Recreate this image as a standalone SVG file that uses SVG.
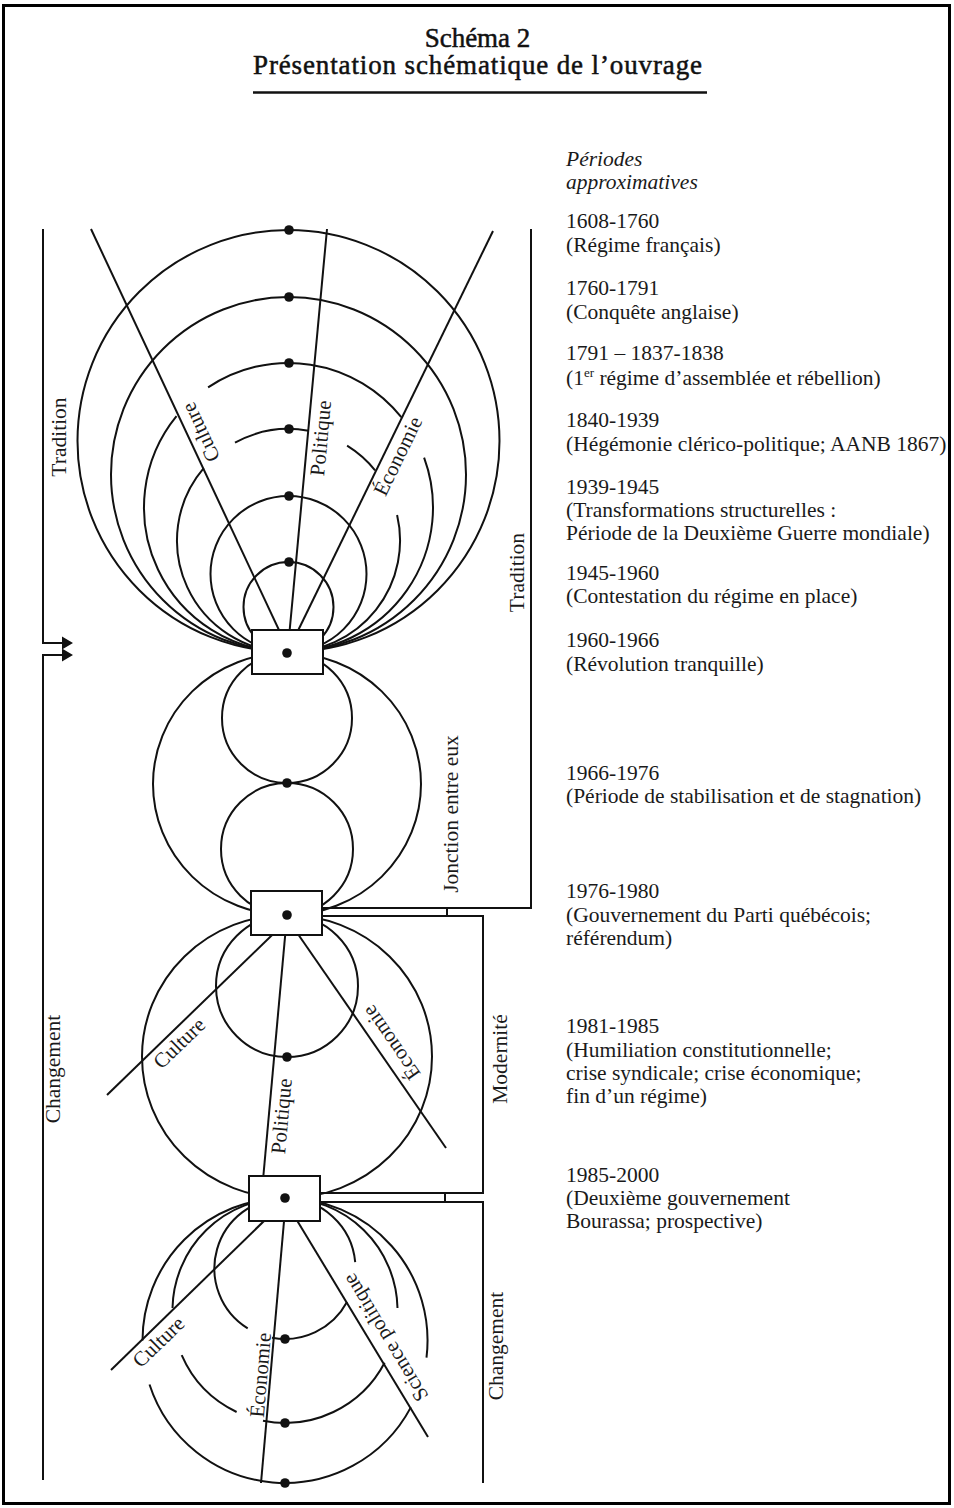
<svg xmlns="http://www.w3.org/2000/svg" width="954" height="1508" viewBox="0 0 954 1508">
<style>
.ln{fill:none;stroke:#111;stroke-width:2}
.bx{fill:#fff;stroke:#111;stroke-width:2}
.dot{fill:#111}
.t{font-family:"Liberation Serif","Times New Roman",serif;font-size:21.5px;fill:#1a1a1a}
.i{font-style:italic}
.lbl{font-family:"Liberation Serif","Times New Roman",serif;font-size:21px;fill:#1a1a1a;text-anchor:middle}
.vt{font-family:"Liberation Serif","Times New Roman",serif;font-size:21.5px;fill:#1a1a1a;text-anchor:middle}
.ttl{font-family:"Liberation Serif","Times New Roman",serif;font-size:27px;fill:#111;stroke:#111;stroke-width:0.5;text-anchor:middle}
</style>
<rect width="954" height="1508" fill="#fff"/>
<rect x="3.5" y="5.5" width="946" height="1498" fill="none" stroke="#000" stroke-width="3"/>

<g id="title">
<text class="ttl" x="477.5" y="47">Schéma 2</text>
<text class="ttl" x="477.5" y="74" textLength="449" lengthAdjust="spacing">Présentation schématique de l’ouvrage</text>
<line x1="253" y1="92.5" x2="707" y2="92.5" stroke="#111" stroke-width="2.5"/>
</g>

<g id="connectors">
<!-- upper system: circles through box 1 -->
<circle class="ln" cx="288.5" cy="441" r="211"/>
<circle class="ln" cx="288.5" cy="474.5" r="177.5"/>
<path class="ln" d="M288.5,652 A144.5,144.5 0 0 1 176.5,416.2 M208.1,387.4 A144.5,144.5 0 0 1 401.3,417.2 M424.1,457.6 A144.5,144.5 0 0 1 288.5,652"/>
<path class="ln" d="M288.5,652 A111.5,111.5 0 0 1 203.7,468.1 M235,442.7 A111.5,111.5 0 0 1 308.6,430.8 M347.1,445.6 A111.5,111.5 0 0 1 375.1,470.3 M397.1,515 A111.5,111.5 0 0 1 288.5,652"/>
<circle class="ln" cx="288.5" cy="574" r="78"/>
<circle class="ln" cx="288.5" cy="607" r="45"/>
<!-- upper rays -->
<line class="ln" x1="91" y1="229" x2="286" y2="645"/>
<line class="ln" x1="327" y1="229" x2="288.3" y2="645"/>
<line class="ln" x1="493" y1="231" x2="291" y2="645"/>
<!-- junction between box 1 and box 2 -->
<ellipse class="ln" cx="287" cy="784" rx="134" ry="131"/>
<circle class="ln" cx="287" cy="718" r="65"/>
<circle class="ln" cx="287" cy="849" r="66"/>
<!-- middle system -->
<circle class="ln" cx="287" cy="986" r="71"/>
<ellipse class="ln" cx="287" cy="1056.5" rx="145" ry="141.5"/>
<line class="ln" x1="282.4" y1="925" x2="107" y2="1095"/>
<line class="ln" x1="286.1" y1="925" x2="263" y2="1180"/>
<line class="ln" x1="291.7" y1="925" x2="446" y2="1148"/>
<!-- lower system -->
<path class="ln" d="M247.7,1328.4 A70.5,70.5 0 0 1 285,1198 M347,1302 A70.5,70.5 0 0 1 272,1337.8 M285,1198 A70.5,70.5 0 0 1 355.2,1262.1"/>
<path class="ln" d="M172.5,1308 A112.5,112.5 0 0 1 285,1198 M236.6,1412 A112.5,112.5 0 0 1 181.7,1355.2 M384.6,1362.8 A112.5,112.5 0 0 1 263,1420.8 M285,1198 A112.5,112.5 0 0 1 397.5,1308"/>
<path class="ln" d="M142.5,1340.5 A142.5,142.5 0 0 1 285,1198 M410.8,1407.4 A142.5,142.5 0 0 1 149.5,1384.5 M285,1198 A142.5,142.5 0 0 1 426.5,1357.6"/>
<line class="ln" x1="275.3" y1="1210" x2="111" y2="1370"/>
<line class="ln" x1="285" y1="1210" x2="261" y2="1483"/>
<line class="ln" x1="290.7" y1="1210" x2="428" y2="1437"/>
<!-- left brackets -->
<path class="ln" d="M43,229 V643 H63"/>
<path class="ln" d="M43,1480 V655 H63"/>
<path class="dot" d="M62,636.5 L73,643 L62,649.5 Z M62,648.5 L73,655 L62,661.5 Z"/>
<!-- right brackets -->
<path class="ln" d="M531,229 V908 H322"/>
<path class="ln" d="M322,916 H483 V1193 H320"/>
<path class="ln" d="M320,1202 H483 V1483"/>
<path class="ln" d="M447,908 V916 M445,1193 V1202"/>
</g>

<g id="box1"><rect class="bx" x="252" y="630" width="71" height="44"/><circle class="dot" cx="287" cy="653" r="4.8"/></g>
<g id="box2"><rect class="bx" x="251" y="891" width="71" height="44"/><circle class="dot" cx="287" cy="915" r="4.8"/></g>
<g id="box3"><rect class="bx" x="249" y="1176" width="71" height="45"/><circle class="dot" cx="285" cy="1198" r="4.8"/></g>

<g id="dots">
<circle class="dot" cx="289" cy="230" r="4.8"/>
<circle class="dot" cx="289" cy="297" r="4.8"/>
<circle class="dot" cx="289" cy="363" r="4.8"/>
<circle class="dot" cx="289" cy="429" r="4.8"/>
<circle class="dot" cx="289" cy="496" r="4.8"/>
<circle class="dot" cx="289" cy="562" r="4.8"/>
<circle class="dot" cx="287" cy="783" r="4.8"/>
<circle class="dot" cx="287" cy="1057" r="4.8"/>
<circle class="dot" cx="285" cy="1339" r="4.8"/>
<circle class="dot" cx="285" cy="1423" r="4.8"/>
<circle class="dot" cx="285" cy="1483" r="4.8"/>
</g>

<g id="ray-labels">
<text class="lbl" transform="translate(207,429.3) rotate(-115.2)">Culture</text>
<text class="lbl" transform="translate(327.6,438.8) rotate(-84.7)">Politique</text>
<text class="lbl" transform="translate(404.1,459.1) rotate(-64)">Économie</text>
<text class="lbl" transform="translate(184,1048.2) rotate(-44.1)">Culture</text>
<text class="lbl" transform="translate(288.4,1116.8) rotate(-84.7)">Politique</text>
<text class="lbl" transform="translate(397,1038.7) rotate(-124.7)">Économie</text>
<text class="lbl" transform="translate(163.3,1346.9) rotate(-44.2)">Culture</text>
<text class="lbl" transform="translate(267.4,1375.7) rotate(-85)">Économie</text>
<text class="lbl" transform="translate(391.3,1334) rotate(-121.2)">Science politique</text>
</g>

<g id="bracket-labels">
<text class="vt" transform="translate(66,437) rotate(-90)">Tradition</text>
<text class="vt" transform="translate(524,572.5) rotate(-90)">Tradition</text>
<text class="vt" transform="translate(458,814) rotate(-90)">Jonction entre eux</text>
<text class="vt" transform="translate(507,1059) rotate(-90)">Modernité</text>
<text class="vt" transform="translate(503,1346) rotate(-90)">Changement</text>
<text class="vt" transform="translate(60,1069) rotate(-90)">Changement</text>
</g>

<g id="periods">
<text class="t i" x="566" y="166">Périodes</text>
<text class="t i" x="566" y="189">approximatives</text>
<text class="t" x="566" y="228">1608-1760</text>
<text class="t" x="566" y="252">(Régime français)</text>
<text class="t" x="566" y="295">1760-1791</text>
<text class="t" x="566" y="319">(Conquête anglaise)</text>
<text class="t" x="566" y="360">1791 – 1837-1838</text>
<text class="t" x="566" y="385">(1<tspan font-size="13" dy="-8">er</tspan><tspan dy="8"> régime d’assemblée et rébellion)</tspan></text>
<text class="t" x="566" y="427">1840-1939</text>
<text class="t" x="566" y="451">(Hégémonie clérico-politique; AANB 1867)</text>
<text class="t" x="566" y="494">1939-1945</text>
<text class="t" x="566" y="517">(Transformations structurelles :</text>
<text class="t" x="566" y="540">Période de la Deuxième Guerre mondiale)</text>
<text class="t" x="566" y="580">1945-1960</text>
<text class="t" x="566" y="603">(Contestation du régime en place)</text>
<text class="t" x="566" y="647">1960-1966</text>
<text class="t" x="566" y="671">(Révolution tranquille)</text>
<text class="t" x="566" y="780">1966-1976</text>
<text class="t" x="566" y="803">(Période de stabilisation et de stagnation)</text>
<text class="t" x="566" y="898">1976-1980</text>
<text class="t" x="566" y="922">(Gouvernement du Parti québécois;</text>
<text class="t" x="566" y="945">référendum)</text>
<text class="t" x="566" y="1033">1981-1985</text>
<text class="t" x="566" y="1057">(Humiliation constitutionnelle;</text>
<text class="t" x="566" y="1080">crise syndicale; crise économique;</text>
<text class="t" x="566" y="1103">fin d’un régime)</text>
<text class="t" x="566" y="1182">1985-2000</text>
<text class="t" x="566" y="1205">(Deuxième gouvernement</text>
<text class="t" x="566" y="1228">Bourassa; prospective)</text>
</g>
</svg>
